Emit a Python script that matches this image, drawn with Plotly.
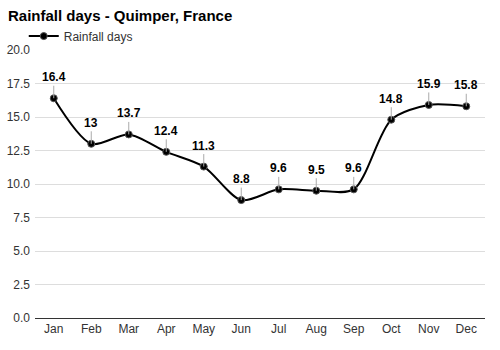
import plotly.graph_objects as go

months = ["Jan", "Feb", "Mar", "Apr", "May", "Jun", "Jul", "Aug", "Sep", "Oct", "Nov", "Dec"]
rain_days = [16.4, 13, 13.7, 12.4, 11.3, 8.8, 9.6, 9.5, 9.6, 14.8, 15.9, 15.8]
y_ticks = [0, 2.5, 5, 7.5, 10, 12.5, 15, 17.5, 20]
y_tick_labels = ["0.0", "2.5", "5.0", "7.5", "10.0", "12.5", "15.0", "17.5", "20.0"]

font_family = "Liberation Sans, Arial, sans-serif"

fig = go.Figure()
fig.add_trace(go.Scatter(
    x=months, y=rain_days, mode="lines+markers", name="Rainfall days",
    line=dict(color="#000000", width=2, shape="spline", smoothing=0.8),
    marker=dict(color="#000000", size=7, line=dict(color="#555555", width=1)),
))

for m, v in zip(months, rain_days):
    fig.add_annotation(
        x=m, y=v, text=f"<b>{v:g}</b>", showarrow=True, arrowhead=0,
        arrowcolor="#aaaaaa", arrowwidth=1, ax=0, ay=-21,
        font=dict(family=font_family, size=12, color="#000000"),
    )

fig.update_layout(
    width=500, height=350,
    margin=dict(l=35, r=15, t=50, b=32, autoexpand=False),
    paper_bgcolor="white", plot_bgcolor="white",
    font=dict(family=font_family, size=12, color="#333333"),
    title=dict(text="<b>Rainfall days - Quimper, France</b>", x=0.016, xanchor="left",
               y=0.955, yanchor="middle", font=dict(size=15, color="#000000")),
    showlegend=True,
    legend=dict(orientation="h", x=-0.025, xanchor="left", y=1.052, yanchor="middle",
                font=dict(size=12, color="#333333"), bgcolor="rgba(0,0,0,0)"),
    xaxis=dict(type="category", range=[-0.5, 11.5], showgrid=False, automargin=False,
               showline=True, linecolor="#333333", linewidth=1, ticks="",
               tickfont=dict(size=12, color="#333333")),
    yaxis=dict(range=[0, 20], tickvals=y_ticks, ticktext=y_tick_labels, automargin=False,
               showgrid=True, gridcolor="#dddddd", gridwidth=1, zeroline=False,
               tickfont=dict(size=12, color="#333333"), ticks="", ticklabelstandoff=4),
)

fig.write_html("out.html")
